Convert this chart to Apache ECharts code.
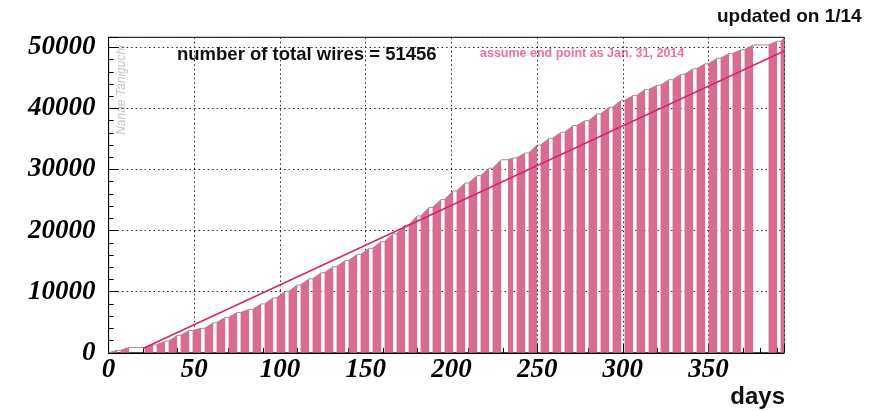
<!DOCTYPE html>
<html>
<head>
<meta charset="utf-8">
<script src="https://cdn.jsdelivr.net/npm/echarts@6/dist/echarts.min.js"></script>
<style>html,body{margin:0;padding:0;background:#fff}#c{width:878px;height:411px}</style>
</head>
<body>
<div id="c"></div>
<script>
// weekly working blocks: first day, number of working days, cumulative wires at block end
const barStart = [0, 7, 21, 28, 35, 42, 49, 56, 63, 70, 77, 84, 91, 98, 105, 112, 119, 126, 133, 140,
  147, 154, 161, 168, 175, 182, 189, 196, 203, 210, 217, 224, 233, 238, 245, 252, 259, 266, 273, 280,
  287, 294, 301, 308, 315, 322, 329, 336, 343, 350, 357, 364, 371, 385, 392];
const barDays = [5, 5, 5, 5, 5, 5, 5, 5, 5, 5, 5, 5, 5, 5, 5, 5, 5, 5, 5, 5,
  5, 5, 5, 5, 5, 5, 5, 5, 5, 5, 5, 5, 3, 5, 5, 5, 5, 5, 5, 5,
  5, 5, 5, 5, 5, 5, 5, 5, 5, 5, 5, 5, 5, 5, 2];
const wires = [400, 850, 1300, 1900, 2850, 3650, 4000, 4900, 5800, 6600, 7100, 8000, 9000, 10000, 11100, 12100, 13100, 14100, 15100, 16100,
  17100, 18200, 19500, 20900, 22400, 23800, 25100, 26500, 27800, 29000, 30200, 31600, 31900, 32700, 34000, 35100, 36100, 37200, 38000, 39100,
  40200, 41300, 42100, 43100, 43800, 44700, 45600, 46500, 47300, 48200, 49000, 49600, 50400, 51000, 51456];
// planned line: start of production to assumed end point (Jan. 31, 2014)
const planDays = [20, 410];
const planWires = [700, 51456];
const xTicks = [0, 50, 100, 150, 200, 250, 300, 350];
const yTicks = [0, 10000, 20000, 30000, 40000, 50000];
const totalWires = 51456;

const barData = [];
const outline = [[0, 0]];
for (let i = 0; i < barStart.length; i++) {
  const prev = i === 0 ? 0 : wires[i - 1];
  barData.push([barStart[i], barStart[i] + barDays[i], prev, wires[i]]);
  outline.push([barStart[i], prev]);
  outline.push([barStart[i] + barDays[i], wires[i]]);
}

const chart = echarts.init(document.getElementById('c'), null, {renderer: 'canvas'});
const serif = 'Liberation Serif';
chart.setOption({
  animation: false,
  backgroundColor: '#fff',
  grid: {left: 108.6, right: 94, top: 37.3, bottom: 58.2, show: true, borderColor: '#000', borderWidth: 1, containLabel: false},
  xAxis: {
    type: 'value', min: 0, max: 394, interval: 50,
    axisLine: {show: true, lineStyle: {color: '#000', width: 1}},
    axisTick: {show: true, inside: true, length: 9, lineStyle: {color: '#000'}},
    minorTick: {show: true, splitNumber: 5, length: 5, lineStyle: {color: '#000'}},
    splitLine: {show: true, lineStyle: {color: '#222', type: [1.5, 3], width: 1}},
    axisLabel: {
      margin: 4, color: '#000', fontFamily: serif, fontWeight: 'bold', fontStyle: 'italic', fontSize: 27,
      formatter: v => xTicks.indexOf(v) >= 0 ? String(v) : ''
    }
  },
  yAxis: {
    type: 'value', min: 0, max: 51640, interval: 10000,
    axisLine: {show: true, lineStyle: {color: '#000', width: 1}},
    axisTick: {show: true, inside: true, length: 10, lineStyle: {color: '#000'}},
    minorTick: {show: true, splitNumber: 5, length: 5, lineStyle: {color: '#000'}},
    splitLine: {show: true, lineStyle: {color: '#222', type: [1.5, 3], width: 1}},
    axisLabel: {
      margin: 13, color: '#000', fontFamily: serif, fontWeight: 'bold', fontStyle: 'italic', fontSize: 27,
      formatter: v => yTicks.indexOf(v) >= 0 ? String(v) : ''
    }
  },
  series: [
    {
      type: 'custom', clip: true, z: 2,
      data: barData,
      renderItem: function (params, api) {
        const s = api.value(0), e = api.value(1), v0 = api.value(2), v1 = api.value(3);
        const b0 = api.coord([s, 0]), b1 = api.coord([e, 0]);
        const t0 = api.coord([s, v0]), t1 = api.coord([e, v1]);
        return {type: 'polygon', shape: {points: [b0, t0, t1, b1]}, style: {fill: '#d96c92', stroke: null}};
      }
    },
    {
      type: 'line', data: outline, symbol: 'none', z: 3, clip: true,
      lineStyle: {color: '#a08890', width: 1}
    },
    {
      type: 'line', data: planDays.map((d, i) => [d, planWires[i]]), symbol: 'none', z: 4, clip: true,
      lineStyle: {color: '#d3246f', width: 1.5}
    }
  ],
  graphic: [
    {type: 'text', left: 177, top: 45, style: {text: 'number of total wires = ' + totalWires, font: 'bold 18.5px "Liberation Sans"', fill: '#111'}},
    {type: 'text', left: 480, top: 47, style: {text: 'assume end point as Jan. 31, 2014', font: 'bold 12.5px "Liberation Sans"', fill: '#ef6fa0'}},
    {type: 'text', left: 717, top: 7, style: {text: 'updated on 1/14', font: 'bold 19px "Liberation Sans"', fill: '#111'}},
    {type: 'text', right: 93, top: 385, style: {text: 'days', font: 'bold 24px "Liberation Sans"', fill: '#111'}},
    {type: 'text', x: 122, y: 90, rotation: Math.PI / 2, style: {text: 'Nanae Taniguchi', font: 'italic 12px "Liberation Sans"', fill: '#c4c4c4', align: 'center', verticalAlign: 'middle'}}
  ]
});
</script>
</body>
</html>
